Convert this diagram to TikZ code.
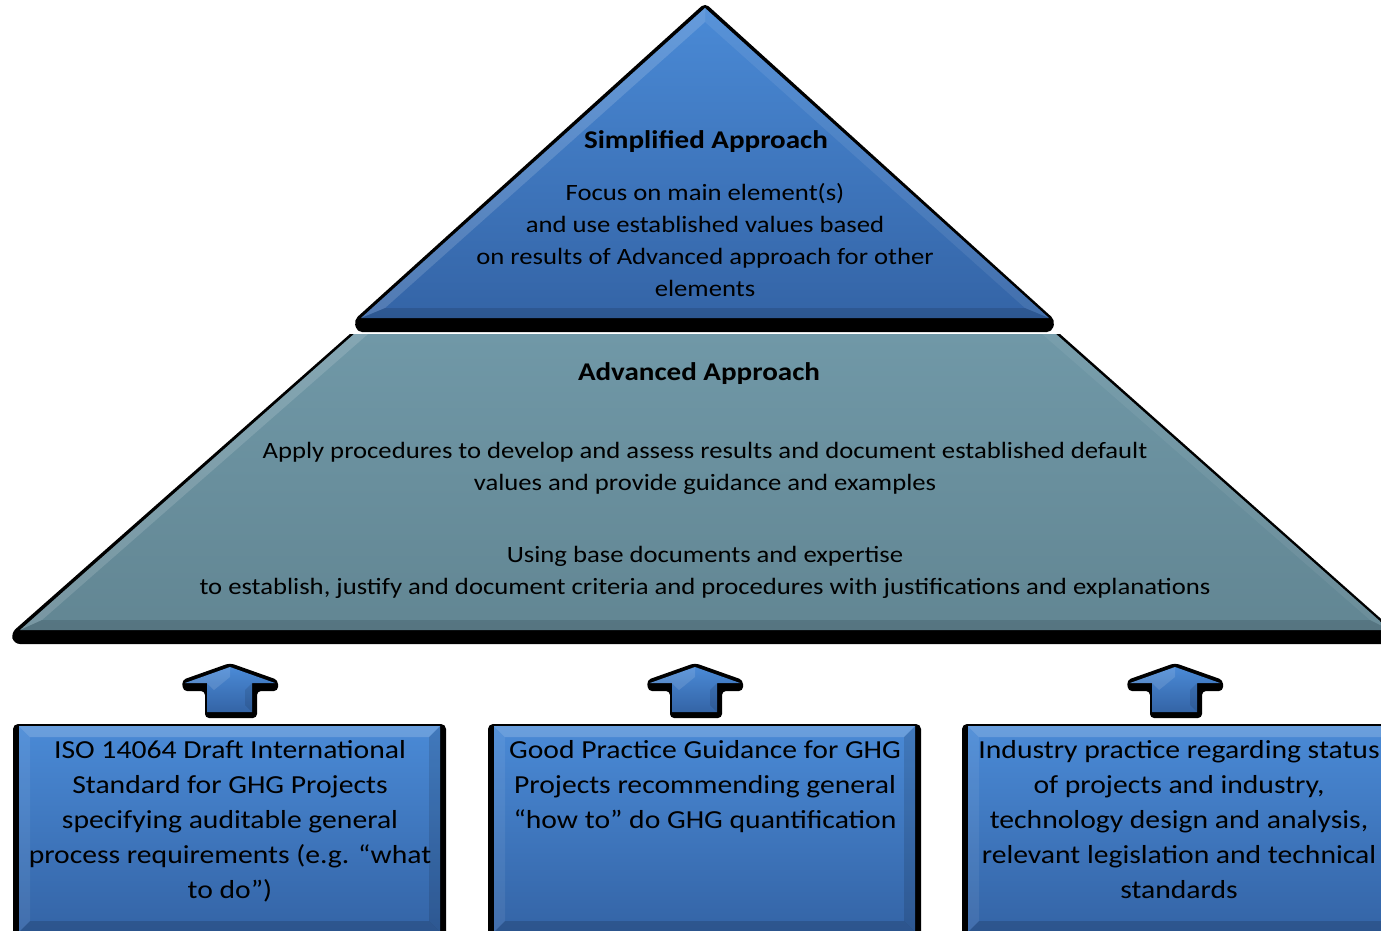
\documentclass[tikz,border=0pt]{standalone}
\usepackage{fontspec}
\setmainfont[FakeStretch=1.14]{Carlito}
\definecolor{bluetop}{HTML}{4A8AD6}
\definecolor{bluebot}{HTML}{3464A6}
\definecolor{greytop}{HTML}{7098A7}
\definecolor{greybot}{HTML}{628693}
\tikzset{
  boxtext/.style={anchor=base, inner sep=0pt, align=center, font=\fontsize{26}{35}\selectfont},
  pyrtext/.style={anchor=base, inner sep=0pt, align=center, font=\fontsize{23.4}{32}\selectfont},
  pyrtitle/.style={anchor=base, inner sep=0pt, font=\bfseries\fontsize{25.5}{30}\selectfont},
  bluefill/.style={top color=bluetop, bottom color=bluebot},
}
\begin{document}
\begin{tikzpicture}[x=1pt,y=-1pt]
\clip (0,0) rectangle (1381,930);
\fill[white] (0,0) rectangle (1381,930);

% ---- Advanced approach trapezoid
\fill[black] (350,334) [rounded corners=6]-- (11,633) -- (14,644) [sharp corners]-- (1420,644) -- (1420,634) -- (1397,633) -- (1060,334) -- cycle;
\shade[top color=greytop, bottom color=greybot] (354,334) -- (20,630) -- (1390,630) -- (1056,334) -- cycle;
\fill[white, opacity=.14] (354,334) -- (20,630) -- (42,620) -- (368,334) -- cycle;
\fill[white, opacity=.06] (1056,334) -- (1390,630) -- (1370,620) -- (1042,334) -- cycle;
\fill[black, opacity=.12] (20,630) -- (1390,630) -- (1370,620) -- (42,620) -- cycle;

% ---- Simplified approach triangle
\fill[black, rounded corners=5] (705,3) -- (354,320) -- (357,332) -- (1052,332) -- (1055,320) -- cycle;
\shade[bluefill] (705,8) -- (361,318) -- (1049,318) -- cycle;
\fill[white, opacity=.15] (705,8) -- (361,318) -- (385,308) -- (705,22) -- cycle;
\fill[white, opacity=.08] (705,8) -- (1049,318) -- (1025,308) -- (705,22) -- cycle;
\fill[black, opacity=.12] (361,318) -- (1049,318) -- (1025,308) -- (385,308) -- cycle;

% ---- block arrows
\foreach \cx in {230,695,1175}{
  \begin{scope}[shift={(\cx,0)}]
    \fill[black, rounded corners=4] (0,663) -- (-48,680) -- (-47,691) -- (-25,691) -- (-25,718) -- (27,718) -- (27,691) -- (48,691) -- (48,680) -- cycle;
    \shade[bluefill] (0,667) -- (-45,683) -- (-23,683) -- (-23,712) -- (22,712) -- (22,683) -- (45,683) -- cycle;
    \fill[white, opacity=.12] (0,667) -- (-45,683) -- (-23,683) -- (-16,690) -- (0,677) -- cycle;
    \fill[black, opacity=.10] (22,683) -- (22,712) -- (15,705) -- (15,690) -- cycle;
  \end{scope}
}

% ---- bottom boxes
\foreach \a/\b in {13/446,488/921,962/1400}{
  \fill[black, rounded corners=5] (\a,724) rectangle (\b,937);
  \shade[bluefill] (\a+6,726) rectangle (\b-6,932);
  \fill[white, opacity=.18] (\a+6,726) -- (\b-6,726) -- (\b-17,737) -- (\a+17,737) -- cycle;
  \fill[white, opacity=.07] (\a+6,726) -- (\a+17,737) -- (\a+17,921) -- (\a+6,932) -- cycle;
  \fill[black, opacity=.12] (\b-6,726) -- (\b-17,737) -- (\b-17,921) -- (\b-6,932) -- cycle;
  \fill[black, opacity=.15] (\a+6,932) -- (\a+17,921) -- (\b-17,921) -- (\b-6,932) -- cycle;
}

% ---- texts (anchor=base is the baseline of the last line)
\node[pyrtitle] (simpT) at (706,148) {Simplified Approach};
\node[pyrtext] (simpB) at (705,296) {Focus on main element(s)\\and use established values based\\on results of Advanced approach for other\\elements};
\node[pyrtitle] (advT) at (699,380) {Advanced Approach};
\node[pyrtext] (advB) at (705,490) {Apply procedures to develop and assess results and document established default\\values and provide guidance and examples};
\node[pyrtext] (advC) at (705,594) {Using base documents and expertise\\to establish, justify and document criteria and procedures with justifications and explanations};

\node[boxtext] (b1) at (230,898) {ISO 14064 Draft International\\Standard for GHG Projects\\specifying auditable general\\process requirements (e.g. “what\\to do”)};
\node[boxtext] (b2) at (705,828) {Good Practice Guidance for GHG\\Projects recommending general\\“how to” do GHG quantification};
\node[boxtext] (b3) at (1179,898) {Industry practice regarding status\\of projects and industry,\\technology design and analysis,\\relevant legislation and technical\\standards};
\end{tikzpicture}
\end{document}
